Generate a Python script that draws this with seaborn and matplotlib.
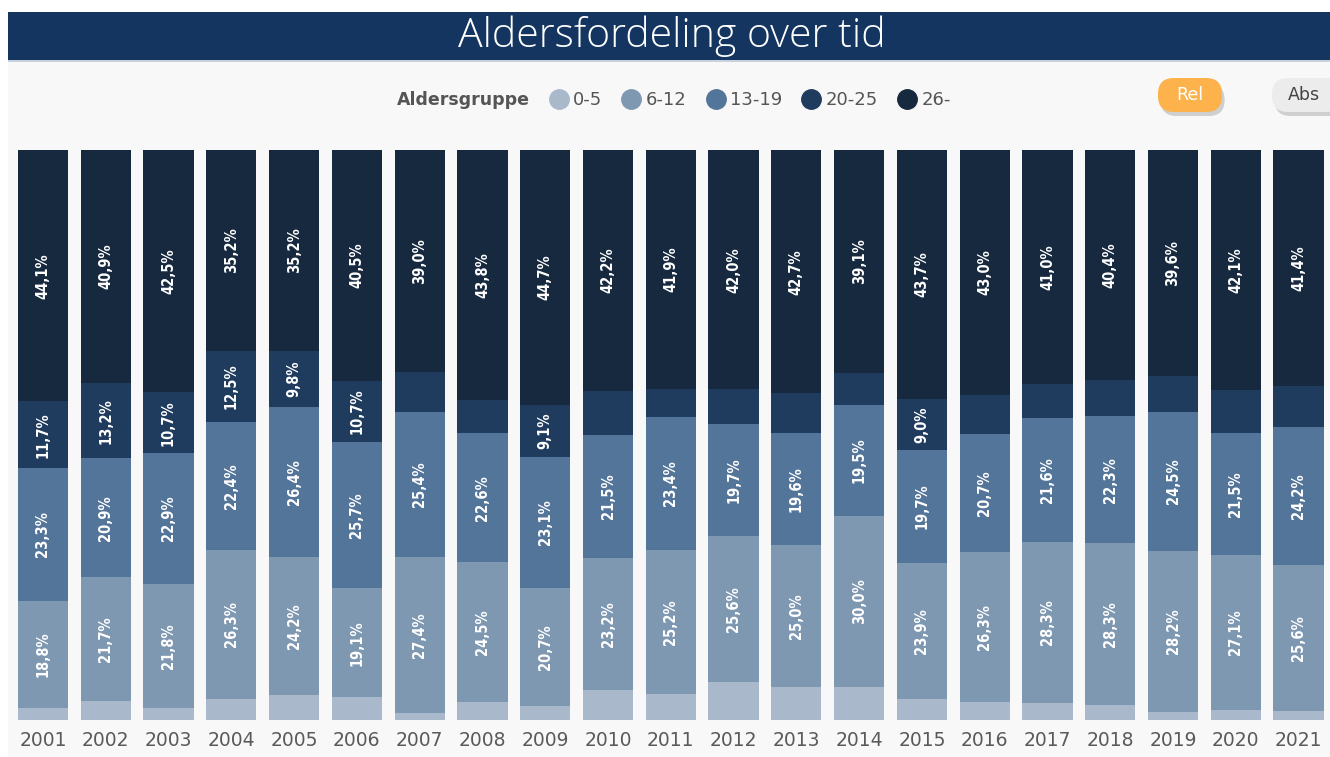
import matplotlib.pyplot as plt
import matplotlib.patches as mpatches
from matplotlib.lines import Line2D
import pandas as pd
import seaborn as sns

# data, percent of each year
years = [str(y) for y in range(2001, 2022)]
groups = ['0-5', '6-12', '13-19', '20-25', '26-']
g_0_5 = [2.1, 3.3, 2.1, 3.6, 4.4, 4.0, 1.2, 3.2, 2.4, 5.3, 4.6, 6.7, 5.7, 5.8, 3.7, 3.2, 3.0, 2.7, 1.4, 1.8, 1.6]
g_6_12 = [18.8, 21.7, 21.8, 26.3, 24.2, 19.1, 27.4, 24.5, 20.7, 23.2, 25.2, 25.6, 25.0, 30.0, 23.9, 26.3, 28.3, 28.3, 28.2, 27.1, 25.6]
g_13_19 = [23.3, 20.9, 22.9, 22.4, 26.4, 25.7, 25.4, 22.6, 23.1, 21.5, 23.4, 19.7, 19.6, 19.5, 19.7, 20.7, 21.6, 22.3, 24.5, 21.5, 24.2]
g_20_25 = [11.7, 13.2, 10.7, 12.5, 9.8, 10.7, 7.0, 5.9, 9.1, 7.8, 4.9, 6.0, 7.0, 5.6, 9.0, 6.8, 6.1, 6.3, 6.3, 7.5, 7.2]
g_26 = [44.1, 40.9, 42.5, 35.2, 35.2, 40.5, 39.0, 43.8, 44.7, 42.2, 41.9, 42.0, 42.7, 39.1, 43.7, 43.0, 41.0, 40.4, 39.6, 42.1, 41.4]
colors = ['#a9b9cb', '#7f98b2', '#54759a', '#1f3b5d', '#16293f']

df = pd.DataFrame({'year': years, '0-5': g_0_5, '6-12': g_6_12,
                   '13-19': g_13_19, '20-25': g_20_25, '26-': g_26})
cum = df[groups].cumsum(axis=1)

bg = '#f8f8f8'
fig = plt.figure(figsize=(13.3, 7.57), dpi=100, facecolor=bg)
ax = fig.add_axes([0.0087, 0.0489, 0.9913, 0.7529])
ax.set_facecolor(bg)

# stacked bars: draw cumulative totals from the top group down
for g, c in reversed(list(zip(groups, colors))):
    sns.barplot(x=df['year'], y=cum[g], color=c, width=0.8, ax=ax,
                saturation=1, linewidth=0)

ax.set_ylim(0, 100)
ax.set_xlim(-0.5, len(years) - 0.5)
ax.set_xlabel('')
ax.set_ylabel('')
ax.set_yticks([])
ax.tick_params(axis='x', length=0, labelsize=13.5, labelcolor='#5a5a5a', pad=8)
for s in ax.spines.values():
    s.set_visible(False)

# value labels (only segments big enough)
for i in range(len(years)):
    for g in groups:
        v = df.loc[i, g]
        if v < 8.5:
            continue
        mid = cum.loc[i, g] - v / 2
        ax.text(i, mid, f'{v:.1f}%'.replace('.', ','), rotation=90,
                ha='center', va='center', color='white', fontsize=10.5,
                fontweight='bold', fontstretch='condensed')

# title bar
fig.patches.append(mpatches.Rectangle((0, 0), 1, 1, transform=fig.transFigure,
                                      facecolor='white', zorder=-3))
fig.patches.append(mpatches.Rectangle((8 / 1330, 0), 1, 1 - 12 / 757,
                                      transform=fig.transFigure,
                                      facecolor=bg, zorder=-2))
fig.patches.append(mpatches.Rectangle((8 / 1330, 1 - 60 / 757), 1, 48 / 757,
                                      transform=fig.transFigure,
                                      facecolor='#13355f', zorder=1))
fig.patches.append(mpatches.Rectangle((8 / 1330, 1 - 62 / 757), 1, 2 / 757,
                                      transform=fig.transFigure,
                                      facecolor='#c9d2dc', zorder=1))
fig.text(672 / 1330, 1 - 36 / 757, 'Aldersfordeling over tid', ha='center',
         va='center', color='white', fontsize=29.5, fontweight='light',
         family='Open Sans', zorder=2)

# legend
fig.text(530 / 1330, 1 - 100 / 757, 'Aldersgruppe', ha='right', va='center',
         fontsize=12.5, fontweight='bold', color='#555555')
handles = [Line2D([], [], marker='o', linestyle='', markersize=14, color=c)
           for c in colors]
fig.legend(handles, groups, loc='center left',
           bbox_to_anchor=(530 / 1330, 1 - 100 / 757), ncol=5, frameon=False,
           handletextpad=0.1, columnspacing=0.9, handlelength=1.4,
           fontsize=13, labelcolor='#555555')

# Rel / Abs buttons
for x0, w, fc, txt, tc in [(1158, 64, '#fdb24b', 'Rel', 'white'),
                           (1272, 70, '#ececec', 'Abs', '#444444')]:
    sh = mpatches.FancyBboxPatch((x0 / 1330 + 0.002, 1 - 116 / 757), w / 1330, 32 / 757,
                                 boxstyle='round,pad=0,rounding_size=0.012',
                                 transform=fig.transFigure, facecolor='#cfcfcf',
                                 edgecolor='none', zorder=2, mutation_aspect=1330 / 757)
    fig.patches.append(sh)
    b = mpatches.FancyBboxPatch((x0 / 1330, 1 - 112 / 757), w / 1330, 34 / 757,
                                boxstyle='round,pad=0,rounding_size=0.012',
                                transform=fig.transFigure, facecolor=fc,
                                edgecolor='none', zorder=3, mutation_aspect=1330 / 757)
    fig.patches.append(b)
    fig.text((x0 + 32) / 1330, 1 - 95 / 757, txt, ha='center', va='center',
             fontsize=12.5, color=tc, zorder=4)

fig.savefig('out.png', dpi=100, facecolor=fig.get_facecolor())
